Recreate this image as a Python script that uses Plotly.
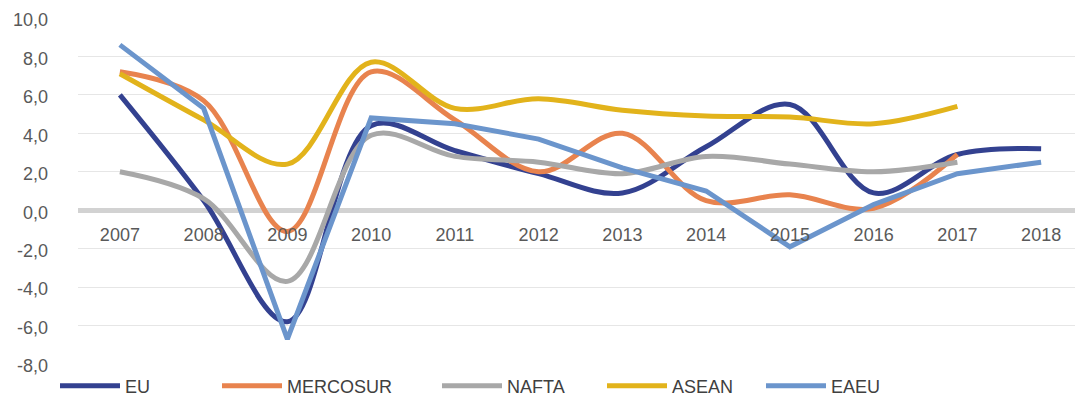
import plotly.graph_objects as go

years = [2007, 2008, 2009, 2010, 2011, 2012, 2013, 2014, 2015, 2016, 2017, 2018]
eu       = [6.0, 0.5, -5.8, 4.4, 3.1, 1.9, 0.9, 3.3, 5.5, 0.9, 2.9, 3.2]
mercosur = [7.2, 5.7, -1.1, 7.2, 4.7, 2.0, 4.0, 0.5, 0.8, 0.1, 2.9, None]
nafta    = [2.0, 0.6, -3.7, 3.9, 2.8, 2.5, 1.9, 2.8, 2.4, 2.0, 2.5, None]
asean    = [7.1, 4.7, 2.4, 7.7, 5.3, 5.8, 5.2, 4.9, 4.85, 4.5, 5.4, None]
eaeu     = [8.6, 5.3, -6.7, 4.8, 4.5, 3.7, 2.2, 1.0, -1.9, 0.3, 1.9, 2.5]
y_ticks  = [-8, -6, -4, -2, 0, 2, 4, 6, 8, 10]
y_labels = [f"{v:.1f}".replace(".", ",") for v in y_ticks]

series = [
    ("EU", eu, "#334190", "spline"),
    ("MERCOSUR", mercosur, "#e8834e", "spline"),
    ("NAFTA", nafta, "#a8a8a8", "spline"),
    ("ASEAN", asean, "#e2b31b", "spline"),
    ("EAEU", eaeu, "#6b95cc", "linear"),
]

FONT = "Liberation Sans"
fig = go.Figure()
legend_names = ["legend", "legend2", "legend3", "legend4", "legend5"]
for (name, vals, color, shape), lg in zip(series, legend_names):
    fig.add_trace(go.Scatter(
        x=years, y=vals, name=name, mode="lines",
        line=dict(color=color, width=5, shape=shape, smoothing=1),
        legend=lg, connectgaps=False,
    ))

# the page body adds an 8px offset; compensate so the plot sits where the reference does
OFF = 8
W, H = 1083 - OFF, 401 - OFF
ml, mr, mt = 78 - OFF, 0, 9
ph = 348
mb = H - mt - ph
pw = W - ml - mr
legend_text_px = [125, 287, 507, 672, 831]
layout_legends = {}
for lg, tx in zip(legend_names, legend_text_px):
    layout_legends[lg] = dict(
        orientation="h", x=(tx - 70 - OFF - ml) / pw, xanchor="left",
        y=-21 / ph, yanchor="middle", itemwidth=60,
        font=dict(family=FONT, size=18, color="#404040"),
        bgcolor="rgba(0,0,0,0)", borderwidth=0,
    )

fig.update_layout(
    width=W, height=H,
    margin=dict(l=ml, r=mr, t=mt, b=mb, autoexpand=False),
    paper_bgcolor="white", plot_bgcolor="white",
    showlegend=True,
    font=dict(family=FONT, size=18, color="#595959"),
    xaxis=dict(
        range=[2006.5, 2018.5], tickvals=years, ticktext=[str(y) for y in years],
        showgrid=False, zeroline=False, showline=False,
        anchor="free", position=8.05 / 18.1, ticklabelstandoff=12,
        tickfont=dict(family=FONT, size=18, color="#595959"),
    ),
    yaxis=dict(
        range=[-8.05, 10.05], tickvals=y_ticks, ticktext=y_labels,
        showgrid=True, gridcolor="#e6e6e6", gridwidth=1,
        zeroline=True, zerolinecolor="#d2d2d2", zerolinewidth=4.5,
        showline=False, ticklabelstandoff=29, ticklabeloverflow="allow",
        ticklabelshift=2,
        tickfont=dict(family=FONT, size=18, color="#595959"),
    ),
    **layout_legends,
)

fig.write_html("out.html")
